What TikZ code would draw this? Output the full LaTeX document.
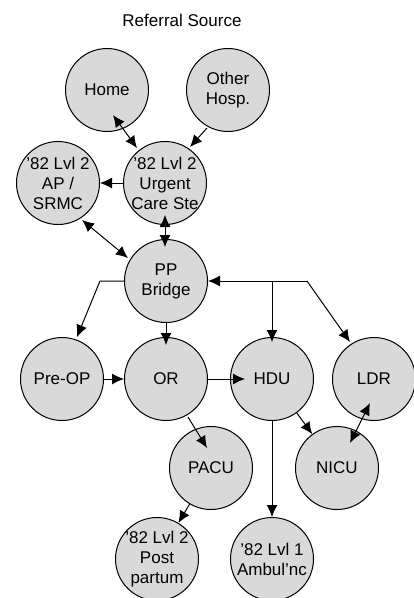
\documentclass[tikz,border=0pt]{standalone}
\usepackage{fontspec}
\setmainfont{Liberation Sans}
\usetikzlibrary{calc,arrows.meta}
\tikzset{
  unit/.style={circle,draw=black,line width=1pt,fill=black!15,minimum size=83pt,inner sep=0pt},
  lbl/.style={align=center,inner sep=0pt,font=\fontsize{17}{20}\selectfont},
  conn/.style={line width=1pt,-{Latex[length=12pt,width=11pt]}},
  biconn/.style={line width=1pt,{Latex[length=12pt,width=11pt]}-{Latex[length=12pt,width=11pt]}}
}
\begin{document}
\begin{tikzpicture}[x=1pt,y=-1pt]
\path[use as bounding box,fill=white] (0,0) rectangle (414,598);
\node[lbl] (title) at (182,20) {Referral Source};
% circles
\node[unit] (Home) at (107,90) {};
\node[unit] (Other) at (228,90) {};
\node[unit] (AP) at (58,183) {};
\node[unit] (Urg) at (165,183) {};
\node[unit] (PP) at (166,281) {};
\node[unit] (PreOP) at (62,379) {};
\node[unit] (OR) at (166,379) {};
\node[unit] (HDU) at (272,379) {};
\node[unit] (LDR) at (374,379) {};
\node[unit] (PACU) at (211,468) {};
\node[unit] (NICU) at (337,468) {};
\node[unit] (Post) at (157,559) {};
\node[unit] (Amb) at (272,559) {};
% connectors
\draw[biconn] ($(Home)+(6,25)$) -- ($(Urg)+(-28,-35)$);
\draw[conn] ($(Other)+(-21,38)$) -- ($(Urg)+(25,-36)$);
\draw[conn] (Urg.west) -- (AP.east);
\draw[biconn] ($(Urg)+(0,32)$) -- ($(PP)+(-1,-34)$);
\draw[biconn] ($(AP)+(24,37)$) -- ($(PP)+(-38,-23)$);
\coordinate (busW) at ($(PP.west)+(-24,0)$);
\draw[conn] (PP.west) -- (busW) -- ($(PreOP)+(15,-42)$);
\draw[conn] (PP.south) -- ($(OR)+(0,-34)$);
\coordinate (busE) at ($(PP.east)+(99,0)$);
\draw[conn] (busE) -- (PP.east);
\draw[conn] (HDU |- PP.east) -- ($(HDU)+(0,-37)$);
\draw[conn] (busE) -- ($(LDR)+(-24,-37)$);
\draw[conn] (PreOP.east) -- (OR.west);
\draw[conn] (OR.east) -- ($(HDU)+(-27,0)$);
\draw[conn] ($(OR)+(22,38)$) -- ($(PACU)+(-4,-20)$);
\draw[conn] (PACU) -- (Post);
\draw[conn] (HDU.south) -- (Amb.north);
\draw[conn] (HDU) -- (NICU);
\draw[biconn] ($(NICU)+(13,-25)$) -- ($(LDR)+(-4,24)$);
% labels
\node[lbl] (tHome) at (Home) {Home};
\node[lbl] (tOther) at (Other) {Other\\Hosp.};
\node[lbl] (tAP) at (AP) {'82 Lvl 2\\AP /\\SRMC};
\node[lbl] (tUrg) at (Urg) {'82 Lvl 2\\Urgent\\Care Ste};
\node[lbl] (tPP) at (PP) {PP\\Bridge};
\node[lbl] (tPreOP) at (PreOP) {Pre-OP};
\node[lbl] (tOR) at (OR) {OR};
\node[lbl] (tHDU) at (HDU) {HDU};
\node[lbl] (tLDR) at (LDR) {LDR};
\node[lbl] (tPACU) at (PACU) {PACU};
\node[lbl] (tNICU) at (NICU) {NICU};
\node[lbl] (tPost) at (Post) {'82 Lvl 2\\Post\\partum};
\node[lbl] (tAmb) at (Amb) {'82 Lvl 1\\Ambul'nc};
\end{tikzpicture}
\end{document}
